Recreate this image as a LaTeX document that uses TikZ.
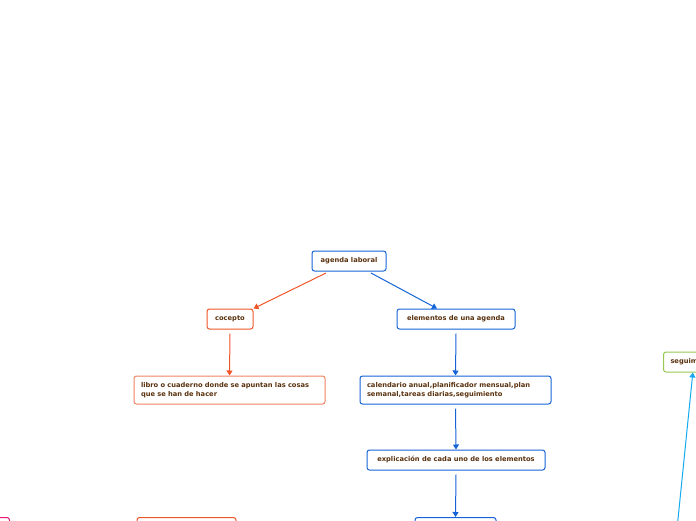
\documentclass[tikz,border=0pt]{standalone}
\usepackage{fontspec}
\setmainfont{DejaVu Sans}
\usetikzlibrary{arrows.meta}
\definecolor{mapblue}{RGB}{20,100,215}
\definecolor{maporange}{RGB}{240,85,40}
\definecolor{mapsalmon}{RGB}{240,130,100}
\definecolor{mapgreen}{RGB}{150,200,80}
\definecolor{mappink}{RGB}{235,20,120}
\definecolor{mapcyan}{RGB}{20,170,240}
\definecolor{maptext}{RGB}{90,50,15}
\newcommand{\mapfont}{\fontsize{6.7}{9}\selectfont\bfseries\hyphenpenalty=10000\relax}
\begin{document}
\begin{tikzpicture}[x=1pt, y=-1pt]
      \tikzset{topic/.style={draw, rounded corners=2.5pt, line width=1pt, fill=white,
          text=maptext, font=\mapfont,
          inner xsep=7pt, inner ysep=0pt, minimum height=20pt},
        bluebox/.style={topic, draw=mapblue},
        orangebox/.style={topic, draw=maporange},
        salmonbox/.style={topic, draw=mapsalmon},
        greenbox/.style={topic, draw=mapgreen},
        pinkbox/.style={topic, draw=mappink},
        link/.style={line width=1pt, -{Triangle[length=5pt,width=6pt]}}}
      \useasboundingbox (0,0) rectangle (696,520);
      
      % Central topic
      \node[bluebox, minimum width=74pt] (agenda) at (349, 261) {agenda laboral};
      
      % Left branch
      \node[orangebox, minimum width=46pt] (cocepto) at (230, 319) {cocepto};
      \node[salmonbox, minimum width=191pt, minimum height=28pt, text width=177pt, align=left] (libro) at (229.5, 390)
        {libro o cuaderno donde se apuntan las cosas que se han de hacer};
      
      % Right branch
      \node[bluebox, minimum width=118pt] (elementos) at (456, 319) {elementos de una agenda};
      \node[bluebox, minimum width=191pt, minimum height=28pt, text width=177pt, align=left] (calendario) at (455.5, 390)
        {calendario anual,planificador mensual,plan semanal,tareas diarias,seguimiento};
      \node[bluebox, minimum width=178pt] (explicacion) at (456, 460) {explicación de cada uno de los elementos};
      
      % Boxes cut by the lower edge
      \node[bluebox, minimum width=81pt, anchor=north] (abajo) at (455.5, 517) {};
      \node[orangebox, minimum width=99pt, anchor=north] (abajoizq) at (186.5, 517) {};
      \node[pinkbox, minimum width=40pt, anchor=north east] (rosa) at (10, 517) {};
      
      % Topic cut by the right edge
      \node[greenbox, anchor=west] (seguim) at (663, 362) {seguimiento};
      \coordinate (desde) at (677.5, 524);
      
      % Connectors
      \draw[link, maporange] (326, 273) -- (cocepto.north east);
      \draw[link, mapblue] (371, 273) -- ([xshift=-19pt]elementos.north);
      \draw[link, maporange] ([yshift=-4pt]cocepto.south) -- (libro.north);
      \draw[link, mapblue] ([yshift=-4pt]elementos.south) -- (calendario.north);
      \draw[link, mapblue] ([yshift=-4pt]calendario.south) -- (explicacion.north);
      \draw[link, mapblue] ([yshift=-4pt]explicacion.south) -- (abajo.north);
      \draw[link, mapcyan] (desde) -- (seguim);
      
    \end{tikzpicture}
\end{document}
